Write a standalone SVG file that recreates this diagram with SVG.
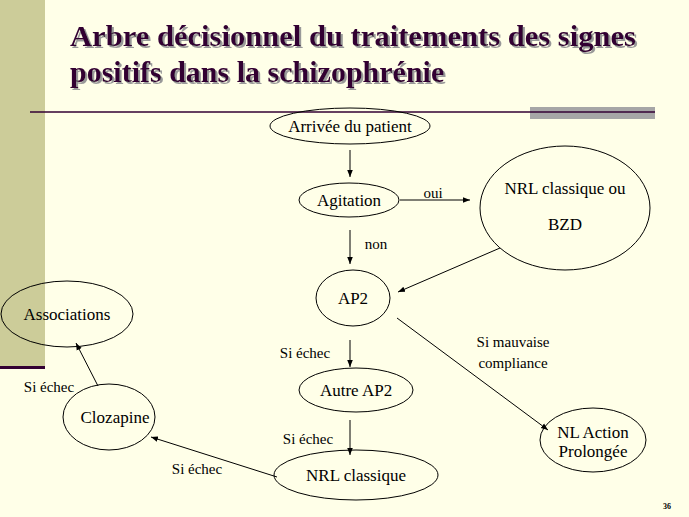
<svg xmlns="http://www.w3.org/2000/svg" width="689" height="517" viewBox="0 0 689 517">
<style>
.n{fill:none;stroke:#000;stroke-width:1}
.t{font-family:"Liberation Serif","Times New Roman",serif;font-size:17px;fill:#000;text-anchor:middle}
.l{font-family:"Liberation Serif","Times New Roman",serif;font-size:15px;fill:#000;text-anchor:middle}
.e{stroke:#000;stroke-width:1;fill:none;marker-end:url(#a)}
.h{font-family:"Liberation Serif","Times New Roman",serif;font-size:30px;font-weight:bold;fill:#330033}
</style>
<defs><marker id="a" viewBox="0 0 10 10" refX="10" refY="5" markerWidth="7" markerHeight="7" orient="auto"><path d="M0,1L10,5L0,9z" fill="#000"/></marker>
<filter id="s"><feDropShadow dx="2" dy="2" stdDeviation="0.5" flood-color="#999"/></filter></defs>
<rect width="689" height="517" fill="#FFFFE8"/>
<rect x="0" y="0" width="45" height="367" fill="#CCCC99"/>
<rect x="0" y="366" width="45" height="3" fill="#330033"/>
<rect x="530" y="107" width="125" height="12" fill="#A6A6A6"/>
<line x1="30" y1="112" x2="655" y2="112" stroke="#330033" stroke-width="1.5"/>
<g class="h" filter="url(#s)"><text x="70" y="46" textLength="566" lengthAdjust="spacingAndGlyphs">Arbre décisionnel du traitements des signes</text><text x="70" y="82">positifs dans la schizophrénie</text></g>
<g id="arrivee"><ellipse class="n" cx="350" cy="126" rx="80" ry="18"/><text class="t" x="350" y="132">Arrivée du patient</text></g>
<g id="agitation"><ellipse class="n" cx="349" cy="200" rx="50" ry="17"/><text class="t" x="349" y="206">Agitation</text></g>
<g id="nrlbzd"><ellipse class="n" cx="565" cy="208" rx="85" ry="62"/><text class="t" x="565" y="194">NRL classique ou</text><text class="t" x="565" y="230">BZD</text></g>
<g id="ap2"><ellipse class="n" cx="353" cy="298" rx="37" ry="28"/><text class="t" x="353" y="304">AP2</text></g>
<g id="associations"><ellipse class="n" cx="67" cy="314" rx="66" ry="33"/><text class="t" x="67" y="320">Associations</text></g>
<g id="autreap2"><ellipse class="n" cx="356" cy="390" rx="57" ry="22"/><text class="t" x="356" y="396">Autre AP2</text></g>
<g id="clozapine"><ellipse class="n" cx="109" cy="417" rx="46" ry="33"/><text class="t" x="115" y="423">Clozapine</text></g>
<g id="nrl"><ellipse class="n" cx="356" cy="475" rx="82" ry="25"/><text class="t" x="356" y="481">NRL classique</text></g>
<g id="nlap"><ellipse class="n" cx="593" cy="440" rx="53" ry="32"/><text class="t" x="593" y="438">NL Action</text><text class="t" x="593" y="457">Prolongée</text></g>
<g id="connectors">
<line class="e" x1="350" y1="150" x2="350" y2="177"/>
<line class="e" x1="400" y1="200" x2="470" y2="200"/>
<line class="e" x1="350" y1="230" x2="350" y2="264"/>
<line class="e" x1="500" y1="248" x2="398" y2="292"/>
<line class="e" x1="397" y1="318" x2="548" y2="430"/>
<line class="e" x1="350" y1="340" x2="350" y2="367"/>
<line class="e" x1="350" y1="420" x2="350" y2="455"/>
<line class="e" x1="277" y1="477" x2="151" y2="437"/>
<line class="e" x1="98" y1="386" x2="76" y2="343"/>
<text class="l" x="433" y="198">oui</text>
<text class="l" x="376" y="249">non</text>
<text class="l" x="513" y="347">Si mauvaise</text>
<text class="l" x="513" y="368">compliance</text>
<text class="l" x="305" y="358">Si échec</text>
<text class="l" x="308" y="444">Si échec</text>
<text class="l" x="197" y="474">Si échec</text>
<text class="l" x="49" y="392">Si échec</text>
</g>
<text x="667" y="509" font-family="Liberation Serif,serif" font-size="8" font-weight="bold" text-anchor="middle">36</text>
</svg>
